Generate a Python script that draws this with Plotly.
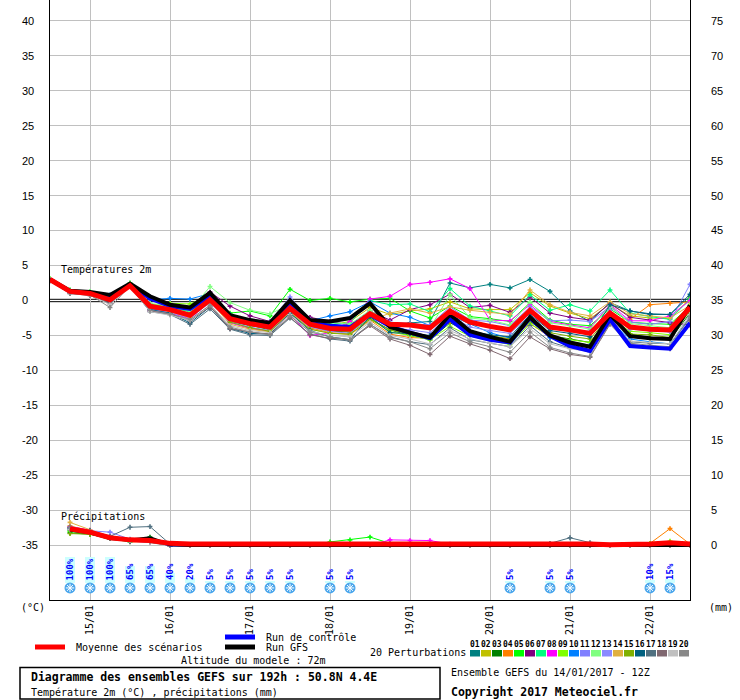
import plotly.graph_objects as go
import pandas as pd

# ---------------- data ----------------
times = pd.date_range("2017-01-14 12:00", periods=33, freq="6h")
precip_times = times[1:]

mean_t = [3.0, 1.3, 1.0, 0.1, 2.1, -0.8, -1.3, -2.1, 0.1, -2.6, -3.3, -3.8, -1.1, -3.4, -4.0, -4.1,
          -1.9, -3.4, -3.5, -3.9, -1.5, -3.1, -3.7, -4.2, -1.4, -3.8, -4.2, -4.7, -1.8, -3.8, -4.1, -4.2, -1.0]
gfs_t = [3.0, 1.4, 1.2, 0.8, 2.4, 0.6, -0.6, -1.0, 1.1, -2.1, -2.8, -3.2, 0.0, -2.8, -3.0, -2.5,
         -0.4, -3.8, -4.6, -5.3, -2.0, -4.4, -5.2, -5.9, -2.4, -5.0, -6.0, -6.6, -2.0, -5.1, -5.4, -5.5, -0.7]
ctrl_t = [3.0, 1.3, 1.1, 0.6, 2.3, 0.3, -0.8, -1.2, 0.7, -2.4, -3.2, -3.6, -0.6, -3.2, -3.6, -3.8,
          -2.0, -3.7, -4.6, -5.4, -2.7, -4.9, -5.6, -6.0, -2.5, -5.1, -6.5, -7.2, -2.7, -6.5, -6.7, -6.9, -3.2]

m01_t = [2.9, 1.2, 1.0, 0.0, 2.2, -1.0, -1.5, -2.4, -0.2, -3.0, -3.6, -4.0, -1.5, -3.6, -4.2, -4.4,
         -2.2, -3.5, -3.2, -3.0, 2.5, 1.8, 2.3, 1.8, 3.0, 1.3, -1.5, -3.0, -0.3, -1.5, -2.0, -2.0, 0.6]
m02_t = [3.0, 1.2, 1.0, 0.1, 2.3, -0.8, -1.2, -1.8, 0.3, -2.5, -3.0, -3.6, -1.0, -3.0, -3.5, -3.0,
         -1.0, -2.0, -1.5, -1.2, -0.2, -1.2, -1.3, -1.3, 1.1, -0.8, -1.8, -2.6, -0.5, -2.2, -2.5, -2.6, 0.3]
m03_t = [3.0, 1.3, 1.1, 0.2, 2.4, -0.7, -1.2, -2.0, 0.3, -2.8, -3.5, -4.2, -1.3, -3.7, -4.4, -4.5,
         -2.6, -4.2, -5.0, -5.6, -3.2, -4.6, -5.2, -5.8, -3.0, -5.0, -5.5, -6.0, -2.3, -4.8, -5.3, -5.6, -1.8]
m04_t = [2.9, 1.1, 0.9, 0.0, 2.2, -1.1, -1.5, -2.3, 0.0, -3.0, -3.9, -4.3, -1.6, -3.9, -4.6, -4.8,
         -2.8, -4.8, -5.3, -5.4, -3.0, -4.6, -5.1, -5.5, -3.3, -5.2, -6.2, -6.6, -2.5, -2.7, -0.6, -0.4, -0.2]
m05_t = [3.1, 1.5, 1.2, 0.3, 2.5, -0.5, -1.0, -1.5, 0.6, -1.8, -1.5, -2.2, 1.6, 0.0, 0.3, -0.2,
         0.2, 0.3, -1.5, -2.5, -0.8, -2.3, -2.6, -3.0, -0.3, -2.8, -3.4, -3.6, -1.2, -3.1, -3.3, -3.4, -0.8]
m06_t = [3.0, 1.2, 1.0, 0.1, 2.2, -1.2, -1.5, -2.2, 1.2, -0.8, -2.2, -3.0, -0.8, -2.4, -3.0, -3.5,
         -1.5, -2.8, -1.3, -0.6, 0.9, -1.0, -0.7, -1.7, 0.5, -1.8, -2.4, -2.8, -0.4, -2.4, -2.8, -3.2, -3.5]
m07_t = [3.0, 1.4, 1.2, 0.4, 2.4, -0.6, -1.0, -1.6, 0.5, -2.2, -3.0, -3.5, -0.5, -2.8, -3.4, -3.2,
         0.0, -0.6, -0.5, -1.6, 1.7, -0.8, -1.5, -2.2, 0.8, -1.4, -0.6, -1.5, 1.5, -1.8, -2.3, -2.7, 0.2]
m08_t = [2.9, 1.1, 0.9, -0.2, 2.1, -1.5, -1.8, -2.6, -0.2, -3.2, -4.0, -4.4, -2.0, -5.0, -4.6, -3.0,
         0.2, 0.6, 2.3, 2.6, 3.1, 1.7, -2.8, -2.9, -0.6, -3.0, -3.5, -3.9, -0.6, -2.9, -2.9, -2.2, 0.0]
m09_t = [3.1, 1.4, 1.2, 0.5, 2.4, -0.6, -0.4, -0.5, 0.8, -2.4, -3.6, -4.0, -1.2, -3.3, -4.2, -4.4,
         -2.6, -4.5, -5.0, -5.6, -3.7, -5.1, -5.7, -6.3, -3.3, -5.1, -5.6, -6.0, -2.5, -4.4, -4.6, -4.9, -1.4]
m10_t = [3.0, 1.4, 1.2, 0.8, 2.3, 0.1, 0.3, 0.2, 1.0, -2.0, -3.3, -3.9, -1.0, -2.9, -2.2, -1.6,
         -0.2, -1.8, -2.4, -3.6, -2.1, -3.4, -4.6, -5.4, -2.7, -5.3, -5.9, -6.4, -2.9, -5.5, -5.9, -6.2, -2.4]
m11_t = [3.0, 1.3, 1.1, 0.3, 2.3, -0.9, -1.4, -2.4, 0.4, -2.9, -3.2, -3.0, 0.5, -2.7, -3.7, -4.0,
         -1.5, -3.1, -3.3, -3.5, -0.9, -2.8, -3.0, -3.6, -0.9, -2.9, -2.8, -3.0, -0.9, -3.1, -3.4, -3.0, 2.3]
m12_t = [3.0, 1.4, 1.3, 0.5, 2.4, -0.4, -0.9, -1.5, 2.0, -0.3, -1.4, -1.9, -0.6, -2.8, -3.1, -3.4,
         -1.4, -3.3, -3.5, -3.9, 0.8, -2.5, -2.8, -3.5, -0.2, -3.2, -3.6, -4.1, -0.7, -3.3, -3.6, -3.9, -0.5]
m13_t = [2.9, 1.2, 1.0, 0.0, 2.2, -1.3, -1.7, -2.5, -0.3, -3.1, -3.8, -4.3, -1.7, -3.8, -4.4, -4.7,
         -2.3, -3.9, -4.2, -4.6, -2.1, -3.8, -4.3, -4.7, -2.1, -4.0, -4.3, -4.4, -1.4, -4.1, -4.3, -4.5, -1.2]
m14_t = [3.0, 1.2, 0.9, 0.1, 2.2, -1.0, -1.6, -2.4, -0.1, -3.4, -4.1, -4.5, -1.6, -4.1, -4.6, -4.9,
         -2.9, -1.8, -1.2, -1.8, -0.9, -1.4, -1.7, -2.0, 1.5, -0.6, -1.7, -2.2, -0.2, -1.9, -2.2, -2.5, -0.7]
m15_t = [3.0, 1.3, 1.0, 0.1, 2.3, -0.9, -1.3, -2.1, 0.1, -3.1, -3.9, -4.4, -1.8, -4.1, -4.7, -4.8,
         -2.7, -4.2, -4.8, -5.3, -2.8, -4.4, -5.0, -5.5, -2.8, -4.6, -5.1, -5.5, -2.2, -4.8, -4.9, -5.3, -1.5]
m16_t = [2.9, 1.2, 0.9, -0.3, 2.1, -1.3, -1.8, -3.2, -0.9, -4.0, -4.7, -4.8, -1.8, -4.3, -5.2, -5.6,
         -2.3, -4.6, -4.7, -5.0, -2.6, -4.4, -4.9, -5.2, -2.0, -4.3, -4.7, -5.2, -0.6, -1.5, -1.9, -2.0, 0.9]
m17_t = [2.8, 1.0, 0.8, -0.5, 2.0, -1.6, -2.0, -3.4, -1.2, -4.1, -4.9, -5.0, -2.5, -4.8, -5.5, -5.8,
         -3.4, -5.2, -5.9, -6.3, -3.9, -5.6, -6.1, -6.6, -3.6, -5.9, -6.8, -7.3, -2.9, -5.9, -6.1, -6.2, -2.6]
m18_t = [2.8, 1.0, 0.7, -0.4, 2.0, -1.5, -1.9, -2.9, -0.9, -4.0, -4.5, -4.8, -2.4, -4.9, -5.4, -5.6,
         -3.6, -5.5, -6.4, -7.7, -5.1, -6.2, -7.1, -8.3, -5.2, -6.9, -7.7, -8.1, -3.4, -6.3, -6.6, -6.9, -2.9]
m19_t = [2.9, 1.1, 0.8, -0.6, 2.1, -1.6, -2.1, -2.8, -0.6, -3.6, -4.3, -4.6, -2.0, -4.4, -5.0, -5.2,
         -3.1, -5.0, -5.5, -6.2, -4.3, -5.5, -6.1, -6.6, -4.0, -6.2, -6.9, -7.3, -3.0, -5.8, -6.0, -6.2, -2.0]
m20_t = [2.9, 1.1, 0.8, -1.0, 2.1, -1.4, -1.9, -2.7, -0.7, -3.8, -4.5, -4.9, -2.2, -4.5, -5.2, -5.6,
         -3.4, -5.3, -5.9, -6.9, -4.6, -5.9, -6.6, -7.4, -4.5, -6.7, -7.5, -8.0, -3.2, -6.1, -6.4, -6.6, -2.3]

# precipitation (mm per 6h), from 14/01 18Z
mean_p = [2.4, 1.9, 1.1, 0.8, 0.7, 0.3, 0.2, 0.2, 0.2, 0.2, 0.2, 0.2, 0.2, 0.2, 0.2, 0.3,
          0.3, 0.3, 0.3, 0.2, 0.2, 0.2, 0.2, 0.2, 0.2, 0.3, 0.2, 0.1, 0.1, 0.2, 0.4, 0.2]
gfs_p = [2.2, 1.8, 1.0, 0.8, 1.1, 0.1, 0.0, 0.0, 0.0, 0.0, 0.0, 0.0, 0.0, 0.0, 0.0, 0.0,
         0.0, 0.0, 0.0, 0.0, 0.0, 0.0, 0.0, 0.0, 0.0, 0.0, 0.0, 0.0, 0.0, 0.0, 0.0, 0.0]
ctrl_p = [2.3, 1.9, 1.0, 0.7, 0.9, 0.0, 0.0, 0.0, 0.0, 0.0, 0.0, 0.0, 0.0, 0.0, 0.0, 0.0,
          0.0, 0.0, 0.0, 0.0, 0.0, 0.0, 0.0, 0.0, 0.0, 0.0, 0.0, 0.0, 0.0, 0.0, 0.0, 0.0]
m01_p = [2.5, 2.0, 1.2, 0.7, 0.8, 0.1, 0, 0, 0, 0, 0, 0, 0, 0, 0, 0, 0, 0, 0, 0, 0, 0, 0, 0, 0, 0, 0, 0, 0, 0, 0, 0]
m02_p = [2.8, 2.1, 1.3, 0.6, 0.5, 0.0, 0, 0, 0, 0, 0, 0, 0, 0, 0, 0, 0, 0, 0, 0, 0, 0, 0, 0, 0, 0, 0, 0, 0, 0, 0, 0]
m03_p = [1.8, 1.6, 1.0, 0.8, 1.2, 0.1, 0, 0, 0, 0, 0, 0, 0, 0, 0, 0, 0, 0, 0, 0, 0, 0, 0, 0, 0, 0, 0, 0, 0, 0, 0, 0]
m04_p = [2.6, 1.9, 1.0, 0.5, 0.6, 0.0, 0, 0, 0, 0, 0, 0, 0, 0, 0, 0, 0, 0, 0, 0, 0, 0, 0, 0, 0, 0, 0, 0, 0, 0.3, 2.4, 0.2]
m05_p = [2.0, 1.7, 1.1, 0.6, 0.9, 0.2, 0, 0, 0, 0, 0, 0, 0.1, 0.5, 0.8, 1.2, 0.3, 0, 0, 0, 0, 0, 0, 0, 0, 0, 0, 0, 0, 0, 0, 0]
m06_p = [2.4, 2.0, 1.1, 0.6, 0.5, 0.0, 0, 0, 0, 0, 0, 0, 0, 0, 0, 0, 0, 0, 0, 0, 0, 0, 0, 0, 0, 0, 0, 0, 0, 0, 0, 0]
m07_p = [2.2, 1.9, 1.0, 0.5, 1.0, 0.1, 0, 0, 0, 0, 0, 0, 0, 0, 0, 0, 0, 0, 0, 0, 0, 0, 0, 0, 0, 0, 0, 0, 0, 0, 0, 0]
m08_p = [2.7, 2.2, 1.3, 0.6, 0.5, 0.0, 0, 0, 0, 0, 0, 0, 0, 0, 0, 0, 0.8, 0.7, 0.7, 0.2, 0, 0, 0, 0, 0, 0, 0, 0, 0, 0, 0, 0]
m09_p = [2.1, 1.8, 1.2, 0.7, 0.6, 0.0, 0, 0, 0, 0, 0, 0, 0, 0, 0, 0, 0, 0, 0, 0, 0, 0, 0, 0, 0, 0, 0, 0, 0, 0.3, 0.6, 0.1]
m10_p = [2.5, 2.0, 1.0, 0.8, 0.7, 0.0, 0, 0, 0, 0, 0, 0, 0, 0, 0, 0, 0, 0, 0, 0, 0, 0, 0, 0, 0, 0, 0, 0, 0, 0, 0, 0]
m11_p = [2.6, 2.1, 1.9, 0.9, 0.6, 0.0, 0, 0, 0, 0, 0, 0, 0, 0, 0, 0, 0, 0, 0, 0, 0, 0, 0, 0, 0, 0, 0, 0, 0, 0, 0, 0]
m12_p = [2.3, 1.8, 1.1, 0.7, 0.6, 0.0, 0, 0, 0, 0, 0, 0, 0, 0, 0, 0, 0, 0, 0, 0, 0, 0, 0, 0, 0, 0, 0, 0, 0, 0, 0, 0]
m13_p = [2.4, 2.0, 1.4, 0.8, 0.6, 0.0, 0, 0, 0, 0, 0, 0, 0, 0, 0, 0, 0, 0, 0, 0, 0, 0, 0, 0, 0, 0, 0, 0, 0, 0, 0, 0]
m14_p = [3.3, 2.2, 1.2, 0.8, 0.6, 0.0, 0, 0, 0, 0, 0, 0, 0, 0, 0, 0, 0, 0, 0, 0, 0, 0, 0, 0, 0, 0, 0, 0, 0, 0, 0, 0]
m15_p = [1.7, 1.6, 1.0, 0.7, 0.6, 0.0, 0, 0, 0, 0, 0, 0, 0, 0, 0, 0, 0, 0, 0, 0, 0, 0, 0, 0, 0, 0, 0, 0, 0, 0, 0, 0]
m16_p = [2.5, 2.1, 1.0, 0.6, 0.7, 0.0, 0, 0, 0, 0, 0, 0, 0, 0, 0, 0, 0, 0, 0, 0, 0, 0.1, 0, 0, 0, 0, 0, 0, 0, 0, 0, 0]
m17_p = [2.2, 1.9, 1.3, 2.6, 2.7, 0.2, 0, 0, 0, 0, 0, 0, 0, 0, 0, 0, 0, 0, 0, 0, 0, 0, 0, 0, 0.3, 1.1, 0.4, 0, 0, 0, 0, 0]
m18_p = [2.6, 2.0, 1.1, 0.6, 0.6, 0.0, 0, 0, 0, 0, 0, 0, 0, 0, 0, 0, 0, 0, 0, 0, 0, 0, 0, 0, 0, 0, 0, 0, 0, 0, 0, 0]
m19_p = [2.3, 1.9, 1.1, 0.7, 0.5, 0.0, 0, 0, 0, 0, 0, 0, 0, 0, 0, 0, 0, 0, 0, 0, 0, 0, 0, 0, 0, 0, 0, 0, 0, 0, 0, 0]
m20_p = [2.5, 2.0, 1.2, 0.8, 0.5, 0.0, 0, 0, 0, 0, 0, 0, 0, 0, 0, 0, 0, 0, 0, 0, 0, 0, 0, 0, 0, 0, 0, 0, 0, 0, 0, 0]

member_names = ["01", "02", "03", "04", "05", "06", "07", "08", "09", "10",
                "11", "12", "13", "14", "15", "16", "17", "18", "19", "20"]
member_colors = ["#008080", "#c0c000", "#008000", "#ff8000", "#00ff00", "#800080", "#00ff80",
                 "#ff00ff", "#80ff00", "#0080ff", "#8080ff", "#80ff80", "#8a8aff", "#e0b040",
                 "#80b000", "#006080", "#507080", "#806870", "#c0c0c0", "#888888"]
members_t = [m01_t, m02_t, m03_t, m04_t, m05_t, m06_t, m07_t, m08_t, m09_t, m10_t,
             m11_t, m12_t, m13_t, m14_t, m15_t, m16_t, m17_t, m18_t, m19_t, m20_t]
members_p = [m01_p, m02_p, m03_p, m04_p, m05_p, m06_p, m07_p, m08_p, m09_p, m10_p,
             m11_p, m12_p, m13_p, m14_p, m15_p, m16_p, m17_p, m18_p, m19_p, m20_p]

# snow probability (%)
snow_idx = [1, 2, 3, 4, 5, 6, 7, 8, 9, 10, 11, 12, 14, 15, 23, 25, 26, 30, 31]
snow_pct = [100, 100, 100, 65, 65, 40, 20, 5, 5, 5, 5, 5, 5, 5, 5, 5, 5, 10, 15]

day_ticks = pd.date_range("2017-01-15", periods=8, freq="D")
day_labels = [d.strftime("%d/%m") for d in day_ticks]
left_ticks = [40, 35, 30, 25, 20, 15, 10, 5, 0, -5, -10, -15, -20, -25, -30, -35]
right_ticks = [75, 70, 65, 60, 55, 50, 45, 40, 35, 30, 25, 20, 15, 10, 5, 0]

# ---------------- layout helpers ----------------
W, H = 740, 700
L, R, T, B = 50, 690, 0, 600
MONO = "DejaVu Sans Mono"
SANS = "Liberation Sans"


def px(xp):
    return (xp - L) / (R - L)


def py(yp):
    return (B - yp) / (B - T)


fig = go.Figure()

# snow probability bars + icons (overlay axis y3: 0 at bar base, 100 = full bar)
snow_times = [times[i] for i in snow_idx]
fig.add_trace(go.Bar(x=snow_times, y=snow_pct, yaxis="y3", marker=dict(color="#ccffff", line=dict(width=0)),
                     width=3 * 3600 * 1000, hoverinfo="skip", showlegend=False))
fig.add_trace(go.Scatter(x=snow_times, y=[-19] * len(snow_times), yaxis="y3", mode="markers",
                         marker=dict(symbol="circle", size=11, color="#4aa6ec", line=dict(width=0)),
                         hoverinfo="skip", showlegend=False))
fig.add_trace(go.Scatter(x=snow_times, y=[-19] * len(snow_times), yaxis="y3", mode="markers",
                         marker=dict(symbol="asterisk-open", size=7, color="white",
                                     line=dict(color="white", width=1)),
                         hoverinfo="skip", showlegend=False))

# members
for name, col, tv, pv in zip(member_names, member_colors, members_t, members_p):
    fig.add_trace(go.Scatter(x=times, y=tv, mode="lines+markers", yaxis="y",
                             line=dict(color=col, width=1), marker=dict(symbol="cross", size=4, color=col),
                             showlegend=False, name=name))
    fig.add_trace(go.Scatter(x=precip_times, y=pv, mode="lines+markers", yaxis="y2",
                             line=dict(color=col, width=1), marker=dict(symbol="cross", size=4, color=col),
                             showlegend=False, name=name))

# control, GFS, mean
fig.add_trace(go.Scatter(x=times, y=ctrl_t, mode="lines", yaxis="y", line=dict(color="#0000ff", width=4), showlegend=False))
fig.add_trace(go.Scatter(x=precip_times, y=ctrl_p, mode="lines", yaxis="y2", line=dict(color="#0000ff", width=2), showlegend=False))
fig.add_trace(go.Scatter(x=times, y=gfs_t, mode="lines", yaxis="y", line=dict(color="#000000", width=4), showlegend=False))
fig.add_trace(go.Scatter(x=precip_times, y=gfs_p, mode="lines", yaxis="y2", line=dict(color="#000000", width=3), showlegend=False))
fig.add_trace(go.Scatter(x=times, y=mean_t, mode="lines", yaxis="y", line=dict(color="#ff0000", width=5), showlegend=False))
fig.add_trace(go.Scatter(x=precip_times, y=mean_p, mode="lines", yaxis="y2", line=dict(color="#ff0000", width=5), showlegend=False))

annotations = []
shapes = []

# percentages
for t, p in zip(snow_times, snow_pct):
    annotations.append(dict(x=t, y=6, xref="x", yref="y3", text=f"<b>{p}%</b>", textangle=-90,
                            showarrow=False, xanchor="center", yanchor="bottom",
                            font=dict(family=MONO, size=9, color="#0000ff"), borderpad=0))

# left / right tick labels
for v in left_ticks:
    annotations.append(dict(x=px(20), y=v, xref="paper", yref="y", text=str(v), showarrow=False,
                            xanchor="left", yanchor="middle", font=dict(family=SANS, size=11, color="black")))
for v in right_ticks:
    annotations.append(dict(x=px(709), y=v, xref="paper", yref="y2", text=str(v), showarrow=False,
                            xanchor="left", yanchor="middle", font=dict(family=SANS, size=11, color="black")))


def txt(x, y, s, size=10, bold=False):
    annotations.append(dict(x=px(x), y=py(y), xref="paper", yref="paper",
                            text=f"<b>{s}</b>" if bold else s, showarrow=False,
                            xanchor="left", yanchor="middle", font=dict(family=MONO, size=size, color="black")))


txt(59, 269, "Températures 2m")
txt(59, 516, "Précipitations")
txt(19, 607, "(°C)")
txt(707, 607, "(mm)")
txt(74, 647, "Moyenne des scénarios")
txt(264, 637, "Run de contrôle")
txt(264, 647, "Run GFS")
txt(179, 660, "Altitude du modele : 72m")
txt(29, 677, "Diagramme des ensembles GEFS sur 192h : 50.8N 4.4E", size=11.5, bold=True)
txt(29, 692, "Température 2m (°C) , précipitations (mm)")
txt(368, 652, "20 Perturbations")
txt(449, 672, "Ensemble GEFS du 14/01/2017 - 12Z")
txt(449, 692, "Copyright 2017 Meteociel.fr", size=11.5, bold=True)

# legend lines
shapes.append(dict(type="line", xref="paper", yref="paper", x0=px(35), x1=px(65), y0=py(647), y1=py(647),
                   line=dict(color="#ff0000", width=5)))
shapes.append(dict(type="line", xref="paper", yref="paper", x0=px(225), x1=px(255), y0=py(637), y1=py(637),
                   line=dict(color="#0000ff", width=5)))
shapes.append(dict(type="line", xref="paper", yref="paper", x0=px(225), x1=px(255), y0=py(647), y1=py(647),
                   line=dict(color="#000000", width=5)))

# member colour boxes
for k, (name, col) in enumerate(zip(member_names, member_colors)):
    x0 = 470 + 11 * k
    shapes.append(dict(type="rect", xref="paper", yref="paper", x0=px(x0), x1=px(x0 + 10),
                       y0=py(656.5), y1=py(650), fillcolor=col, line=dict(width=0)))
    annotations.append(dict(x=px(x0 + 5), y=py(644), xref="paper", yref="paper", text=f"<b>{name}</b>",
                            showarrow=False, xanchor="center", yanchor="middle",
                            font=dict(family=MONO, size=8, color="black"), borderpad=0))

# title box
shapes.append(dict(type="rect", xref="paper", yref="paper", x0=px(20), x1=px(440), y0=py(699), y1=py(667.5),
                   line=dict(color="black", width=1.5), fillcolor="rgba(0,0,0,0)"))

# double black line at 0 °C
for v in (0.17, -0.17):
    shapes.append(dict(type="line", xref="paper", yref="y", x0=0, x1=1, y0=v, y1=v,
                       line=dict(color="black", width=1), layer="below"))

fig.update_layout(
    width=W, height=H,
    margin=dict(l=L, r=W - R, t=T, b=H - B, pad=0),
    paper_bgcolor="white", plot_bgcolor="white",
    showlegend=False,
    bargap=0,
    xaxis=dict(type="date", range=[times[0], times[-1]], tickvals=list(day_ticks), ticktext=day_labels,
               tickangle=-90, tickfont=dict(family=MONO, size=10, color="black"),
               showgrid=True, gridcolor="#c0c0c0", gridwidth=1, showline=True, linecolor="black",
               linewidth=1, ticks="", zeroline=False, fixedrange=True),
    yaxis=dict(range=[-42.79, 42.93], tickvals=[v for v in left_ticks if v != 0], showticklabels=False,
               showgrid=True, gridcolor="#c0c0c0", gridwidth=1, showline=True, linecolor="black",
               linewidth=1, zeroline=False, ticks="", fixedrange=True),
    yaxis2=dict(range=[-7.79, 77.93], overlaying="y", side="right", showgrid=False, showline=True,
                linecolor="black", linewidth=1, zeroline=False, tickvals=right_ticks,
                showticklabels=False, ticks="", fixedrange=True),
    yaxis3=dict(range=[-65.4, 2242.3], overlaying="y", visible=False, fixedrange=True),
    annotations=annotations,
    shapes=shapes,
)

fig.write_html("out.html", post_script="document.body.style.margin='0px';",
               config={"displayModeBar": False})
